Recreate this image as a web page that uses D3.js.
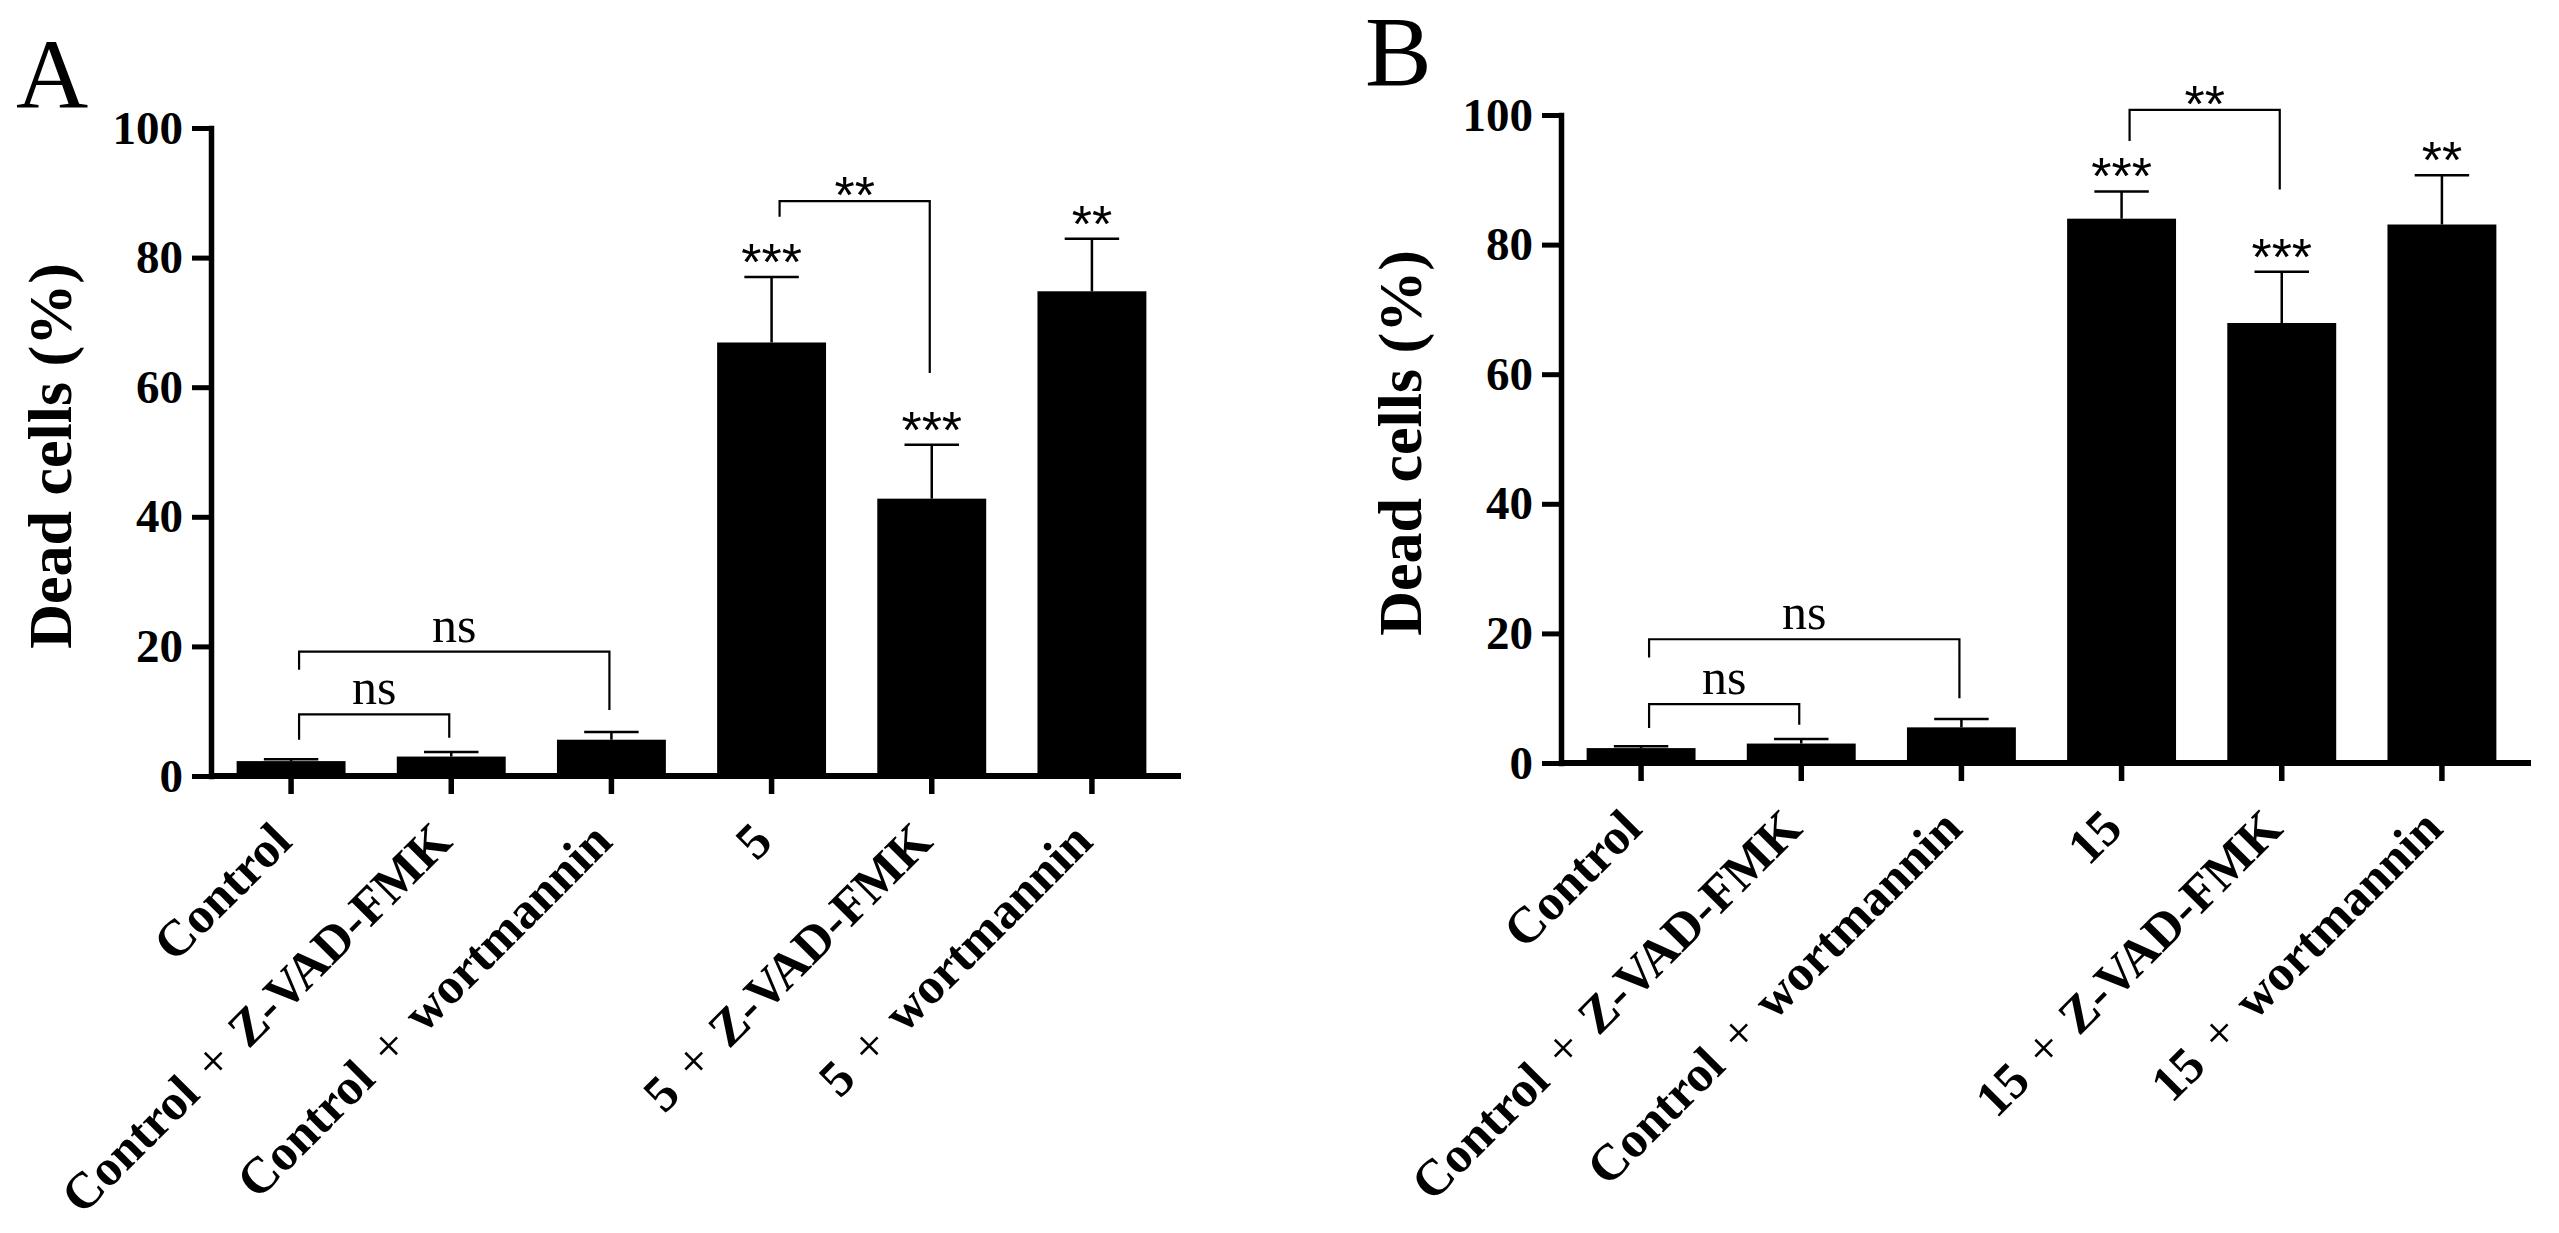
<!DOCTYPE html>
<html>
<head>
<meta charset="utf-8">
<style>
  body { margin: 0; background: #fff; }
  svg { display: block; background: #fff; }
  .y.axis .tick text {
    font-family: 'Liberation Serif', 'Times New Roman', serif;
    font-weight: bold;
    font-size: 47px;
    fill: #000;
  }
  .x.axis .tick text {
    font-family: 'Liberation Serif', 'Times New Roman', serif;
    font-weight: bold;
    font-size: 51px;
    word-spacing: 6px;
    fill: #000;
  }
  .x.axis .tick text .plus {
    font-weight: normal;
  }
  .axis-title {
    font-family: 'Liberation Serif', 'Times New Roman', serif;
    font-weight: bold;
    font-size: 62px;
  }
  .panel-letter {
    font-family: 'Liberation Serif', 'Times New Roman', serif;
    font-size: 100px;
  }
  .stars {
    font-family: 'Liberation Sans', Arial, sans-serif;
    font-size: 52px;
  }
  .ns {
    font-family: 'Liberation Serif', 'Times New Roman', serif;
    font-size: 50px;
  }
</style>
</head>
<body>
<svg width="2559" height="1233"></svg>

<script src="https://d3js.org/d3.v7.min.js"></script>
<script>
  // values (dead cells, %)
  let categoriesA = ["Control", "Control + Z-VAD-FMK", "Control + wortmannin",
    "5", "5 + Z-VAD-FMK", "5 + wortmannin"]
  let categoriesB = ["Control", "Control + Z-VAD-FMK", "Control + wortmannin",
    "15", "15 + Z-VAD-FMK", "15 + wortmannin"]

  let meansA = [2.3, 3.0, 5.6, 66.9, 42.8, 74.8]
  let errorsA = [0.3, 0.7, 1.2, 10.1, 8.3, 8.1]
  let meansB = [2.3, 3.0, 5.5, 84.0, 67.9, 83.1]
  let errorsB = [0.3, 0.7, 1.3, 4.2, 7.9, 7.6]

  let starsA = ["", "", "", "***", "***", "**"]
  let starsB = ["", "", "", "***", "***", "**"]

  // comparison brackets: from / to bar index, bracket level, left and right leg ends
  let bracketsA = [
    { from: 0, to: 1, level: 9.5, left: 5.6, right: 5.9, label: "ns" },
    { from: 0, to: 2, level: 19.2, left: 16.4, right: 10.2, label: "ns" },
    { from: 3, to: 4, level: 88.7, left: 86.3, right: 62.2, label: "**" }
  ]
  let bracketsB = [
    { from: 0, to: 1, level: 9.1, left: 5.4, right: 5.9, label: "ns" },
    { from: 0, to: 2, level: 19.1, left: 16.3, right: 10.0, label: "ns" },
    { from: 3, to: 4, level: 100.8, left: 96.0, right: 88.5, label: "**" }
  ]

  let yTicks = [0, 20, 40, 60, 80, 100]
  let yTitle = "Dead cells (%)"

  let svg = d3.select("svg")

  let panels = [
    { letter: "A", letterX: 16, letterY: 108, left: 211, top: 128, bottom: 776,
      categories: categoriesA, means: meansA, errors: errorsA, stars: starsA, brackets: bracketsA },
    { letter: "B", letterX: 1365, letterY: 85, left: 1561, top: 115, bottom: 763,
      categories: categoriesB, means: meansB, errors: errorsB, stars: starsB, brackets: bracketsB }
  ]

  panels.forEach(drawPanel)

  function drawPanel(p) {
    let g = svg.append("g")

    let y = d3.scaleLinear()
      .domain([0, 100])
      .range([p.bottom, p.top])

    let x = d3.scaleBand()
      .domain(d3.range(p.categories.length))
      .range([p.left, p.left + 961])
      .paddingInner(0.32)
      .paddingOuter(0.16)

    let cx = i => x(i) + x.bandwidth() / 2

    // bars
    g.append("g")
      .selectAll("rect")
      .data(p.means)
      .join("rect")
      .attr("x", (d, i) => x(i))
      .attr("width", x.bandwidth())
      .attr("y", d => y(d))
      .attr("height", d => p.bottom - y(d))
      .attr("fill", "#000")

    // error bars (upper only)
    let err = g.append("g")
      .attr("stroke", "#000")
      .attr("stroke-width", 2.5)
    err.selectAll("line.v")
      .data(p.means)
      .join("line")
      .attr("class", "v")
      .attr("x1", (d, i) => cx(i))
      .attr("x2", (d, i) => cx(i))
      .attr("y1", d => y(d))
      .attr("y2", (d, i) => y(d + p.errors[i]))
    err.selectAll("line.cap")
      .data(p.means)
      .join("line")
      .attr("class", "cap")
      .attr("x1", (d, i) => cx(i) - x.bandwidth() / 4)
      .attr("x2", (d, i) => cx(i) + x.bandwidth() / 4)
      .attr("y1", (d, i) => y(d + p.errors[i]))
      .attr("y2", (d, i) => y(d + p.errors[i]))

    // stars over bars
    g.append("g")
      .selectAll("text")
      .data(p.means)
      .join("text")
      .attr("class", "stars")
      .attr("text-anchor", "middle")
      .attr("x", (d, i) => cx(i))
      .attr("y", (d, i) => y(d + p.errors[i]) + 3)
      .text((d, i) => p.stars[i])

    // brackets
    let br = g.append("g")
    br.selectAll("path")
      .data(p.brackets)
      .join("path")
      .attr("fill", "none")
      .attr("stroke", "#000")
      .attr("stroke-width", 2.2)
      .attr("d", b => `M${cx(b.from) + 8},${y(b.left)}V${y(b.level)}H${cx(b.to) - 2}V${y(b.right)}`)
    br.selectAll("text")
      .data(p.brackets)
      .join("text")
      .attr("class", b => b.label == "ns" ? "ns" : "stars")
      .attr("text-anchor", "middle")
      .attr("x", b => (cx(b.from) + cx(b.to)) / 2 + 3)
      .attr("y", b => b.label == "ns" ? y(b.level) - 10 : y(b.level) + 12)
      .text(b => b.label)

    // y axis
    let yAxis = d3.axisLeft(y)
      .tickValues(yTicks)
      .tickSize(19)
      .tickSizeOuter(0)
      .tickPadding(9)
    g.append("g")
      .attr("class", "y axis")
      .attr("transform", `translate(${p.left},0)`)
      .call(yAxis)
      .call(a => a.select(".domain")
        .attr("stroke-width", 5.5)
        .attr("stroke-linecap", "square"))
      .call(a => a.selectAll(".tick line").attr("stroke-width", 5))

    // x axis
    g.append("line")
      .attr("x1", p.left)
      .attr("x2", p.left + 970)
      .attr("y1", p.bottom)
      .attr("y2", p.bottom)
      .attr("stroke", "#000")
      .attr("stroke-width", 6)

    let xAxis = d3.axisBottom(x)
      .tickSize(18)
      .tickSizeOuter(0)
      .tickFormat(i => p.categories[i])
    g.append("g")
      .attr("class", "x axis")
      .attr("transform", `translate(0,${p.bottom})`)
      .call(xAxis)
      .call(a => a.select(".domain").remove())
      .call(a => a.selectAll(".tick line").attr("stroke-width", 5.5))
      .call(a => a.selectAll(".tick text")
        .attr("x", 0)
        .attr("y", 0)
        .attr("dy", 0)
        .attr("text-anchor", "end")
        .attr("transform", "translate(3,68) rotate(-45)")
        .each(function (i) {
          // the plus sign is set in regular weight
          let t = d3.select(this).text("")
          let parts = p.categories[i].split(" + ")
          t.append("tspan").text(parts[0])
          if (parts.length > 1) {
            t.append("tspan").attr("class", "plus").text(" + ")
            t.append("tspan").text(parts[1])
          }
        }))

    // axis title
    g.append("text")
      .attr("class", "axis-title")
      .attr("text-anchor", "middle")
      .attr("transform", `translate(${p.left - 140},${(p.top + p.bottom) / 2 + 4}) rotate(-90)`)
      .text(yTitle)

    // panel letter
    g.append("text")
      .attr("class", "panel-letter")
      .attr("x", p.letterX)
      .attr("y", p.letterY)
      .text(p.letter)
  }
</script>
</body>
</html>
